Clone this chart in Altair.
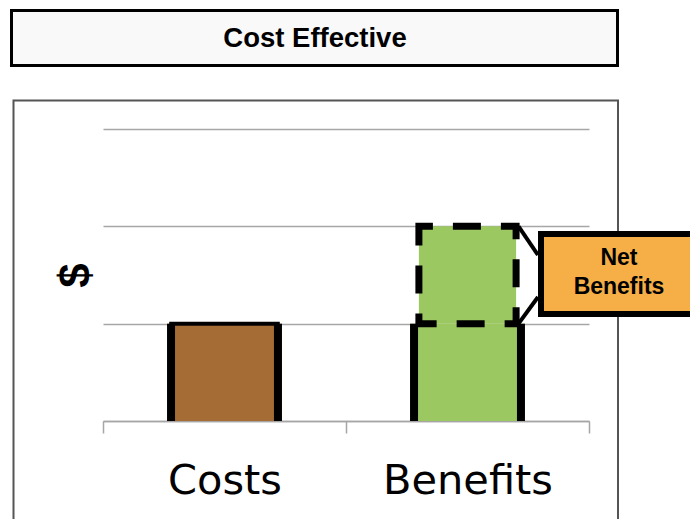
import altair as alt
import pandas as pd

# --- chart values ---------------------------------------------------------
categories = ["Costs", "Benefits"]
amounts = [1, 2]                      # costs, benefits (relative $)
bar_colors = ["#a66c35", "#9cc861"]
title_text = "Cost Effective"
y_title = "$"
callout_lines = ["Net", "Benefits"]
grid_values = [0, 1, 2, 3]

costs = amounts[0]
benefits = amounts[1]

bars_df = pd.DataFrame({"item": categories, "amount": amounts, "color": bar_colors})
# solid part of each bar (up to the cost level)
solid_df = pd.DataFrame({"item": categories, "lo": [0, 0], "hi": [costs, costs],
                         "color": bar_colors})
# net benefit slice sitting on top of the cost level
net_df = pd.DataFrame({"item": ["Benefits"], "lo": [costs], "hi": [benefits],
                       "color": [bar_colors[1]]})
corner_df = pd.DataFrame({"item": ["Benefits", "Benefits"], "level": [benefits, costs]})
one = pd.DataFrame({"k": [0]})

x_scale = alt.Scale(domain=categories, paddingInner=0, paddingOuter=0)
y_scale = alt.Scale(domain=[0, 3], nice=False)

x_axis = alt.Axis(
    title=None, labelAngle=0, labelFont="DejaVu Sans", labelFontSize=41.5,
    labelColor="black", labelPadding=27, tickBand="extent", tickSize=12,
    tickColor="#a6a6a6", tickWidth=1.5, domainColor="#a6a6a6", domainWidth=1.5,
    grid=False,
)
y_axis = alt.Axis(
    title=y_title, values=grid_values, labels=False, ticks=False, domain=False,
    grid=True, gridColor="#a6a6a6", gridWidth=1.5,
    titleFont="Liberation Sans", titleFontWeight="bold", titleFontSize=44,
    titleColor="black", titlePadding=5,
)

X = alt.X("item:N", scale=x_scale, axis=x_axis, sort=categories)

# outer chart frame and heading box
frame = alt.Chart(one).mark_rect(fill=None, stroke="#555555", strokeWidth=2).encode(
    x=alt.value(-89.5), x2=alt.value(515), y=alt.value(-28.5), y2=alt.value(401)
)
head_box = alt.Chart(one).mark_rect(fill="#f9f9f9", stroke="black", strokeWidth=3).encode(
    x=alt.value(-91.5), x2=alt.value(514.5), y=alt.value(-118.5), y2=alt.value(-63.5)
)
head_text = alt.Chart(one).mark_text(
    font="Liberation Sans", fontWeight="bold", fontSize=27.5, color="black",
    align="center", baseline="alphabetic",
).encode(x=alt.value(212), y=alt.value(-82), text=alt.value(title_text))

# cost bar (full value)
cost_bar = alt.Chart(bars_df).transform_filter(alt.datum.item == "Costs").mark_bar(
    width={"band": 0.47}
).encode(
    x=X, y=alt.Y("amount:Q", scale=y_scale, axis=y_axis),
    color=alt.Color("color:N", scale=None),
)
# benefit bar, lower part up to the cost level
benefit_base = alt.Chart(solid_df).transform_filter(alt.datum.item == "Benefits").mark_bar(
    width={"band": 0.47}
).encode(
    x=X, y=alt.Y("lo:Q", scale=y_scale), y2="hi:Q",
    color=alt.Color("color:N", scale=None),
)

# thin top edge on the cost bar (zero-height outlined bar at the cost level)
cost_top = alt.Chart(solid_df).transform_filter(alt.datum.item == "Costs").mark_bar(
    width={"band": 0.455}, fill=None, stroke="black", strokeWidth=4
).encode(
    x=alt.X("item:N", scale=x_scale),
    y=alt.Y("hi:Q", scale=y_scale), y2="hi:Q",
)

# thick outlines on the sides of the solid part
side_left = alt.Chart(solid_df).mark_rule(color="black", strokeWidth=8).encode(
    x=alt.X("item:N", scale=x_scale, bandPosition=0.28),
    y=alt.Y("lo:Q", scale=y_scale), y2="hi:Q",
)
side_right = alt.Chart(solid_df).mark_rule(color="black", strokeWidth=8).encode(
    x=alt.X("item:N", scale=x_scale, bandPosition=0.72),
    y=alt.Y("lo:Q", scale=y_scale), y2="hi:Q",
)

# net benefit slice: green fill with a dashed outline
net_box = alt.Chart(net_df).mark_bar(
    width={"band": 0.4}, stroke="black", strokeWidth=7,
    strokeDash=[28, 20], strokeDashOffset=14,
).encode(
    x=alt.X("item:N", scale=x_scale),
    y=alt.Y("lo:Q", scale=y_scale), y2="hi:Q",
    color=alt.Color("color:N", scale=None),
)

# leader lines from the slice corners to the callout
leader_top = alt.Chart(corner_df.iloc[[0]]).mark_rule(color="black", strokeWidth=4).encode(
    x=alt.X("item:N", scale=x_scale, bandPosition=0.71),
    x2=alt.value(435),
    y=alt.Y("level:Q", scale=y_scale),
    y2=alt.value(126),
)
leader_bottom = alt.Chart(corner_df.iloc[[1]]).mark_rule(color="black", strokeWidth=4).encode(
    x=alt.X("item:N", scale=x_scale, bandPosition=0.71),
    x2=alt.value(435),
    y=alt.Y("level:Q", scale=y_scale),
    y2=alt.value(168),
)

callout_box = alt.Chart(one).mark_rect(fill="#f6ae47", stroke="black", strokeWidth=6).encode(
    x=alt.value(438), x2=alt.value(600), y=alt.value(105), y2=alt.value(185)
)
callout_text = alt.Chart(one).mark_text(
    font="Liberation Sans", fontWeight="bold", fontSize=23, color="black",
    align="center", baseline="alphabetic", lineHeight=29,
).encode(x=alt.value(516), y=alt.value(136), text=alt.value(callout_lines))

chart = alt.layer(
    frame, head_box, head_text,
    cost_bar, benefit_base, cost_top, side_left, side_right, net_box,
    leader_top, leader_bottom, callout_box, callout_text,
).properties(
    width=486, height=292,
    autosize=alt.AutoSizeParams(type="none"),
    padding={"left": 103, "top": 129, "right": 101, "bottom": 98},
    background="white",
).configure_view(stroke=None)

chart.save("out.html", embed_options={"renderer": "svg", "actions": False})
